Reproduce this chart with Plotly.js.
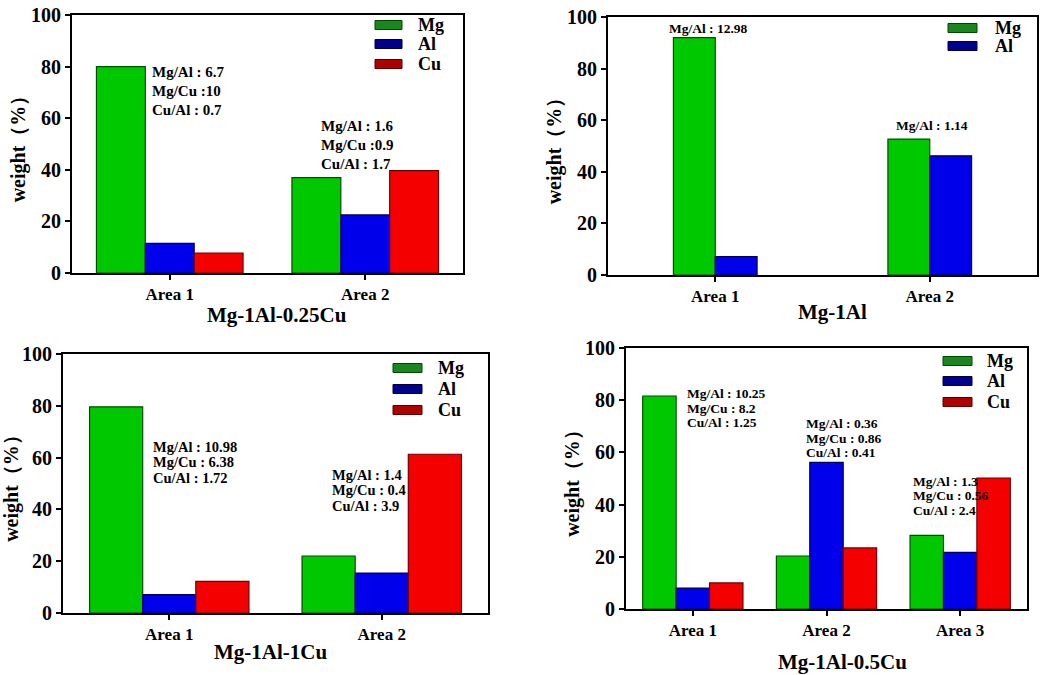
<!DOCTYPE html>
<html><head><meta charset="utf-8">
<script src="https://cdn.plot.ly/plotly-3.0.1.min.js"></script>
<style>html,body{margin:0;padding:0;background:#fff}#chart{width:1041px;height:675px}</style>
</head><body><div id="chart"></div>
<script>
// ---------- data ----------
const areas2 = ['Area 1', 'Area 2'];
const areas3 = ['Area 1', 'Area 2', 'Area 3'];
const yTicks = [0, 20, 40, 60, 80, 100];

// Panel A : Mg-1Al-0.25Cu
const aSeries = ['Mg', 'Al', 'Cu'];
const aMg = [80, 37];
const aAl = [11.5, 22.5];
const aCu = [7.7, 39.7];
const aRatios = [['Mg/Al : 6.7', 'Mg/Cu :10', 'Cu/Al : 0.7'], ['Mg/Al : 1.6', 'Mg/Cu :0.9', 'Cu/Al : 1.7']];

// Panel B : Mg-1Al
const bSeries = ['Mg', 'Al'];
const bMg = [92, 52.7];
const bAl = [7.1, 46.2];
const bRatios = [['Mg/Al : 12.98'], ['Mg/Al : 1.14']];

// Panel C : Mg-1Al-1Cu
const cSeries = ['Mg', 'Al', 'Cu'];
const cMg = [79.6, 22];
const cAl = [7.1, 15.4];
const cCu = [12.2, 61.3];
const cRatios = [['Mg/Al : 10.98', 'Mg/Cu : 6.38', 'Cu/Al : 1.72'], ['Mg/Al : 1.4', 'Mg/Cu : 0.4', 'Cu/Al : 3.9']];

// Panel D : Mg-1Al-0.5Cu
const dSeries = ['Mg', 'Al', 'Cu'];
const dMg = [81.6, 20.3, 28.2];
const dAl = [8, 56.2, 21.7];
const dCu = [10, 23.4, 50.2];
const dRatios = [['Mg/Al : 10.25', 'Mg/Cu : 8.2', 'Cu/Al : 1.25'], ['Mg/Al : 0.36', 'Mg/Cu : 0.86', 'Cu/Al : 0.41'], ['Mg/Al : 1.3', 'Mg/Cu : 0.56', 'Cu/Al : 2.4']];

const panelTitles = ['Mg-1Al-0.25Cu', 'Mg-1Al', 'Mg-1Al-1Cu', 'Mg-1Al-0.5Cu'];

// ---------- styles ----------
const FONT = 'Liberation Serif, Times New Roman, serif';
const colors = {Mg: 'rgb(0,200,0)', Al: 'rgb(0,0,235)', Cu: 'rgb(245,0,0)'};
const edge = {Mg: 'rgb(0,80,0)', Al: 'rgb(0,0,90)', Cu: 'rgb(110,0,0)'};
const keyFill = {Mg: 'rgb(25,135,30)', Al: 'rgb(0,0,140)', Cu: 'rgb(175,0,0)'};
const keyEdge = {Mg: 'rgb(0,70,0)', Al: 'rgb(0,0,60)', Cu: 'rgb(90,0,0)'};

function bar(name, x, y, ax, extra) {
  return Object.assign({
    type: 'bar', name: name, x: x, y: y,
    xaxis: 'x' + ax, yaxis: 'y' + ax, showlegend: false,
    marker: {color: colors[name], line: {color: edge[name], width: 1.2}},
    hoverinfo: 'x+y'
  }, extra || {});
}

const traces = [
  bar('Mg', areas2, aMg, ''),
  bar('Al', areas2, aAl, ''),
  bar('Cu', areas2, aCu, ''),
  bar('Mg', areas2, bMg, '2', {width: 0.195, offset: -0.195}),
  bar('Al', areas2, bAl, '2', {width: 0.195, offset: 0}),
  bar('Mg', areas2, cMg, '3'),
  bar('Al', areas2, cAl, '3'),
  bar('Cu', areas2, cCu, '3'),
  bar('Mg', areas3, dMg, '4'),
  bar('Al', areas3, dAl, '4'),
  bar('Cu', areas3, dCu, '4')
];

const W = 1041, H = 675;
const px = v => v / W;
const py = v => 1 - v / H;

function xAxis(l, r, n, anchor) {
  return {
    domain: [px(l), px(r)], range: [-0.5, n - 0.5], type: 'category', anchor: anchor,
    showline: true, linewidth: 2, linecolor: '#000', mirror: true,
    ticks: 'outside', ticklen: 5, tickwidth: 2, tickcolor: '#000',
    showgrid: false, zeroline: false, fixedrange: true,
    tickfont: {family: FONT, size: 17, weight: 'bold', color: '#000'}
  };
}
function yAxis(t, b, anchor) {
  return {
    domain: [py(b), py(t)], range: [0, 100], tickvals: yTicks,
    showline: true, linewidth: 2, linecolor: '#000', mirror: true,
    ticks: 'outside', ticklen: 5, tickwidth: 2, tickcolor: '#000',
    showgrid: false, zeroline: false, fixedrange: true, anchor: anchor,
    tickfont: {family: FONT, size: 20, weight: 'bold', color: '#000'},
    title: {text: 'weight（%）', standoff: 0, font: {family: FONT, size: 20, weight: 'bold', color: '#000'}}
  };
}

const shapes = [];
const annotations = [];

// legend keys (swatch + label), one block per panel
function legendBlock(names, keyLeft, keyRight, textLeft, centers) {
  names.forEach((n, i) => {
    shapes.push({
      type: 'rect', xref: 'paper', yref: 'paper',
      x0: px(keyLeft), x1: px(keyRight), y0: py(centers[i] + 4.5), y1: py(centers[i] - 4.5),
      fillcolor: keyFill[n], line: {color: keyEdge[n], width: 1}
    });
    annotations.push({
      text: n, xref: 'paper', yref: 'paper', x: px(textLeft), y: py(centers[i]),
      xanchor: 'left', yanchor: 'middle', showarrow: false,
      font: {family: FONT, size: 18, weight: 'bold', color: '#000'}
    });
  });
}
legendBlock(aSeries, 375, 402, 416, [25, 44, 64]);
legendBlock(bSeries, 948, 977, 993, [28, 46]);
legendBlock(cSeries, 393, 422, 436, [368, 389, 410]);
legendBlock(dSeries, 943, 972, 985, [361, 381, 402]);

// ratio notes: first line placed in data space, following lines shifted by a fixed spacing
function ratioBlock(lines, x, y, ax, size, spacing, xanchor) {
  lines.forEach((t, i) => {
    annotations.push({
      text: t, x: x, y: y, xref: 'x' + ax, yref: 'y' + ax, yshift: -i * spacing,
      xanchor: xanchor || 'left', yanchor: 'middle', align: 'left', showarrow: false,
      font: {family: FONT, size: size, weight: 'bold', color: '#000'}
    });
  });
}
ratioBlock(aRatios[0], -0.099, 77.9, '', 15, 19);
ratioBlock(aRatios[1], 0.762, 57.0, '', 15, 19);
ratioBlock(bRatios[0], -0.03, 95.7, '2', 13.5, 0, 'center');
ratioBlock(bRatios[1], 1.01, 57.8, '2', 13.5, 0, 'center');
ratioBlock(cRatios[0], -0.087, 64.1, '3', 14.5, 15.5);
ratioBlock(cRatios[1], 0.755, 53.3, '3', 14.5, 15.5);
ratioBlock(dRatios[0], -0.058, 82.4, '4', 13.5, 14.5);
ratioBlock(dRatios[1], 0.828, 70.9, '4', 13.5, 14.5);
ratioBlock(dRatios[2], 1.635, 49.0, '4', 13.5, 14.5);

function subTitle(text, cx, cy) {
  annotations.push({
    text: text, x: px(cx), y: py(cy), xref: 'paper', yref: 'paper',
    xanchor: 'center', yanchor: 'middle', showarrow: false,
    font: {family: FONT, size: 21, weight: 'bold', color: '#000'}
  });
}
subTitle(panelTitles[0], 277, 315);
subTitle(panelTitles[1], 832, 312);
subTitle(panelTitles[2], 270, 652);
subTitle(panelTitles[3], 842, 662);

const layout = {
  width: W, height: H, margin: {l: 0, r: 0, t: 0, b: 0},
  paper_bgcolor: '#fff', plot_bgcolor: '#fff',
  barmode: 'group', bargap: 0.25, bargroupgap: 0,
  showlegend: false,
  xaxis: xAxis(72, 463, 2, 'y'), yaxis: yAxis(15, 273, 'x'),
  xaxis2: xAxis(608, 1037, 2, 'y2'), yaxis2: yAxis(17, 275, 'x2'),
  xaxis3: xAxis(63, 488, 2, 'y3'), yaxis3: yAxis(354, 613, 'x3'),
  xaxis4: xAxis(626, 1027, 3, 'y4'), yaxis4: yAxis(348, 609, 'x4'),
  shapes: shapes,
  annotations: annotations
};

Plotly.newPlot('chart', traces, layout, {displayModeBar: false, staticPlot: true});
</script></body></html>
